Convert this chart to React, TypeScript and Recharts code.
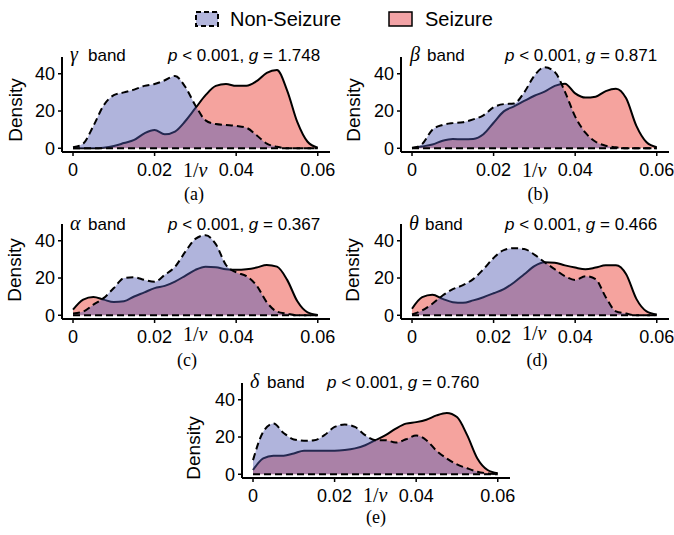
import { Area, AreaChart, ReferenceLine, XAxis, YAxis } from "recharts";

// grid of 1/nu values shared by all panels
const XS = [
  0, 0.0025, 0.005, 0.0075, 0.01, 0.0125, 0.015, 0.0175, 0.02, 0.0225, 0.025, 0.0275, 0.03,
  0.0325, 0.035, 0.0375, 0.04, 0.0425, 0.045, 0.0475, 0.05, 0.0525, 0.055, 0.0575, 0.06,
];

const X_TICKS = [0, 0.02, 0.04, 0.06];
const Y_TICKS = [0, 20, 40];

// (a) gamma band
const GAMMA_NON = [0.5, 2.5, 12, 23, 28.5, 30, 31.5, 33.5, 34.5, 36.5, 38.8, 33, 23, 15, 13, 12.5, 12, 11, 7, 2.5, 0.8, 0, 0, 0, 0];
const GAMMA_SEI = [0, 0, 0, 0.3, 1.2, 2.8, 4.5, 8, 9.8, 7.5, 9, 14.5, 21.5, 28.5, 33.5, 34.5, 33.5, 33.5, 36, 40.5, 42, 31, 14, 3.5, 0.3];

// (b) beta band
const BETA_NON = [0, 2.3, 10, 12.5, 13.5, 14, 15.5, 17.7, 22, 23.7, 24, 30, 39, 43.5, 41, 30.3, 17, 8.4, 3.5, 1.4, 0.5, 0, 0, 0, 0];
const BETA_SEI = [0.3, 1, 2, 4, 5, 4.8, 5, 7.5, 13.7, 19.8, 22.5, 25.4, 28.2, 30.4, 33.5, 34.7, 29.5, 27.2, 27.7, 30.7, 32, 26.8, 12, 3.2, 0.5];

// (c) alpha band
const ALPHA_NON = [1, 2, 5.7, 9.2, 14.6, 20, 20.4, 19, 18, 21.7, 26, 34, 41, 43, 38.2, 27, 23, 21, 16, 7, 2, 0.9, 0, 0, 0];
const ALPHA_SEI = [3, 8.4, 9.8, 8.4, 7.1, 7.5, 10.1, 12.3, 14.6, 15.8, 18.1, 21.2, 24.4, 26.1, 25.8, 24.7, 24.4, 24.7, 25.6, 27, 26.1, 19, 7.5, 1.6, 0.2];

// (d) theta band
const THETA_NON = [0.4, 2.6, 6.2, 10.6, 14, 16.2, 19.4, 24.7, 30.8, 35, 36, 35.6, 32.6, 28.5, 24.7, 21, 19, 21, 19.4, 9.7, 2.1, 0.9, 0, 0, 0];
const THETA_SEI = [3.5, 9.7, 11, 8.8, 7, 6.7, 8, 9.7, 11.8, 14, 17.6, 22, 26.4, 28.5, 28.2, 26.8, 25.6, 24.7, 25.6, 26.8, 26.8, 22, 8.8, 2.1, 0.4];

// (e) delta band
const DELTA_NON = [7.6, 22.8, 27.2, 22.2, 18.7, 18, 18.3, 21, 25.4, 26.7, 25.4, 21, 18.3, 18.3, 17, 18.8, 20.8, 18.3, 12.6, 8.5, 5.3, 3.2, 1.4, 0.5, 0];
const DELTA_SEI = [2.3, 8.5, 10, 10, 11.2, 12.6, 12.6, 12.6, 12.6, 13, 13.9, 15.6, 18.3, 21, 24.5, 27.2, 28, 29.3, 31.6, 32.9, 30.7, 21, 8.5, 2.3, 0.5];

const SANS = "'Liberation Sans', Arial, Helvetica, sans-serif";
const SERIF = "'Liberation Serif', 'Times New Roman', serif";

const NON_FILL = "#4f58b1";
const SEI_FILL = "#f5a39e";

// plot box geometry
const YW = 50;
const MT = 8;
const MR = 8;
const PW = 268;
const PH = 95;
const XH = 32;

const PANELS = [
  { id: "a", greek: "γ", g: "1.748", non: GAMMA_NON, sei: GAMMA_SEI, left: 62, top: 57 },
  { id: "b", greek: "β", g: "0.871", non: BETA_NON, sei: BETA_SEI, left: 401, top: 57 },
  { id: "c", greek: "α", g: "0.367", non: ALPHA_NON, sei: ALPHA_SEI, left: 62, top: 224 },
  { id: "d", greek: "θ", g: "0.466", non: THETA_NON, sei: THETA_SEI, left: 401, top: 224 },
  { id: "e", greek: "δ", g: "0.760", non: DELTA_NON, sei: DELTA_SEI, left: 242, top: 383 },
];

const fmtX = (v: number) => (v === 0 ? "0" : v.toFixed(2));

function DensityPanel({ non, sei, left, top }: { non: number[]; sei: number[]; left: number; top: number }) {
  const data = XS.map((x, i) => ({ x, non: non[i], sei: sei[i] }));
  const axisStyle = { stroke: "#000", strokeWidth: 2 };
  const tickStyle = { fill: "#000", fontSize: 18, fontFamily: SANS };
  return (
    <div style={{ position: "absolute", left: left - YW, top: top - MT }}>
      <AreaChart
        width={YW + PW + MR}
        height={MT + PH + XH}
        data={data}
        margin={{ top: MT, right: MR, bottom: 0, left: 0 }}
      >
        <XAxis
          dataKey="x"
          type="number"
          domain={[-0.0027, 0.063]}
          ticks={X_TICKS}
          tickFormatter={fmtX}
          allowDataOverflow
          height={XH}
          axisLine={axisStyle}
          tickLine={{ stroke: "#000", strokeWidth: 1.5 }}
          tickSize={4}
          tickMargin={7}
          tick={tickStyle}
        />
        <YAxis
          type="number"
          domain={[-2, 49]}
          ticks={Y_TICKS}
          allowDataOverflow
          width={YW}
          axisLine={axisStyle}
          tickLine={{ stroke: "#000", strokeWidth: 1.5 }}
          tickSize={4}
          tickMargin={3}
          tick={tickStyle}
        />
        <Area
          dataKey="sei"
          type="monotone"
          baseValue={0}
          fill={SEI_FILL}
          fillOpacity={1}
          stroke="#000"
          strokeWidth={2}
          isAnimationActive={false}
        />
        <Area
          dataKey="non"
          type="monotone"
          baseValue={0}
          fill={NON_FILL}
          fillOpacity={0.45}
          stroke="#000"
          strokeWidth={2}
          strokeDasharray="7 4"
          isAnimationActive={false}
        />
        <ReferenceLine
          segment={[{ x: 0, y: 0 }, { x: 0.06, y: 0 }]}
          stroke="#000"
          strokeWidth={2}
          strokeDasharray="7 4"
        />
      </AreaChart>
    </div>
  );
}

// text placement per panel (overlay)
const LABELS = [
  { id: "a", gx: 70, bx: 88, by: 61, px: 168, nx: 183, ny: 177, cx: 194, cy: 200, dx: 15, dy: 110 },
  { id: "b", gx: 410, bx: 427, by: 61, px: 505, nx: 522, ny: 177, cx: 538, cy: 200, dx: 353, dy: 110 },
  { id: "c", gx: 70, bx: 88, by: 230, px: 168, nx: 183, ny: 341, cx: 187, cy: 366, dx: 14, dy: 270 },
  { id: "d", gx: 409, bx: 425, by: 230, px: 505, nx: 522, ny: 340, cx: 537, cy: 366, dx: 352, dy: 270 },
  { id: "e", gx: 250, bx: 267, by: 388, px: 327, nx: 363, ny: 502, cx: 376, cy: 523, dx: 193, dy: 448 },
];

export default function App() {
  return (
    <div style={{ position: "absolute", left: 0, top: 0, width: 674, height: 535, background: "#fff", overflow: "hidden" }}>
      {PANELS.map((p) => (
        <DensityPanel key={p.id} non={p.non} sei={p.sei} left={p.left} top={p.top} />
      ))}
      <svg
        width={674}
        height={535}
        style={{ position: "absolute", left: 0, top: 0, pointerEvents: "none" }}
      >
        {/* legend */}
        <rect x={196} y={12} width={22} height={14} fill="#b3b6dc" stroke="#000" strokeWidth={2} strokeDasharray="5 3" />
        <text x={230} y={26} fontSize={20} fontFamily={SANS} fill="#000">Non-Seizure</text>
        <rect x={389} y={12} width={23} height={14} fill="#f2a3a6" stroke="#000" strokeWidth={1.5} />
        <text x={425} y={26} fontSize={20} fontFamily={SANS} fill="#000">Seizure</text>

        {LABELS.map((l, i) => {
          const p = PANELS[i];
          return (
            <g key={l.id}>
              <text x={l.gx} y={l.by} fontSize={20} fontFamily={SERIF} fontStyle="italic" fill="#000">{p.greek}</text>
              <text x={l.bx} y={l.by} fontSize={17} fontFamily={SANS} fill="#000">band</text>
              <text x={l.px} y={l.by} fontSize={17} fontFamily={SANS} fill="#000">
                <tspan fontStyle="italic">p</tspan>
                <tspan>{" < 0.001, "}</tspan>
                <tspan fontStyle="italic">g</tspan>
                <tspan>{" = " + p.g}</tspan>
              </text>
              <text x={l.nx} y={l.ny} fontSize={20} fontFamily={SERIF} fill="#000">
                1/<tspan fontStyle="italic">ν</tspan>
              </text>
              <text x={l.cx} y={l.cy} fontSize={18} fontFamily={SERIF} fill="#000" textAnchor="middle">({l.id})</text>
              <text
                x={l.dx}
                y={l.dy}
                fontSize={19}
                fontFamily={SANS}
                fill="#000"
                textAnchor="middle"
                dominantBaseline="central"
                transform={`rotate(-90 ${l.dx} ${l.dy})`}
              >
                Density
              </text>
            </g>
          );
        })}
      </svg>
    </div>
  );
}
